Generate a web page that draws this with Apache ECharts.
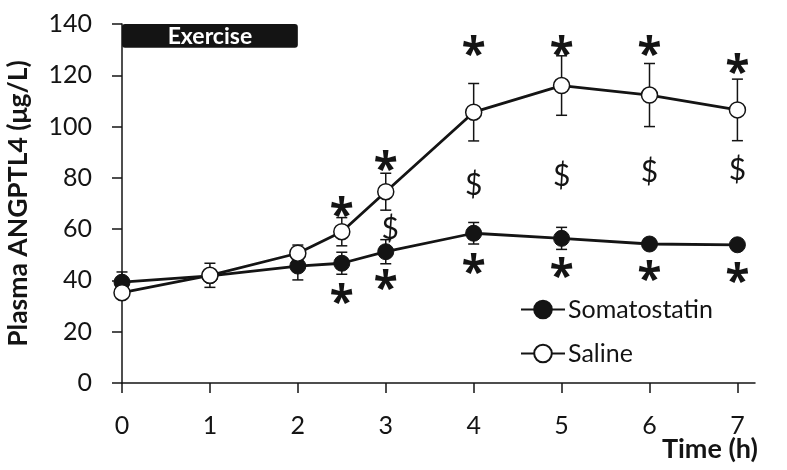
<!DOCTYPE html>
<html><head><meta charset="utf-8">
<script src="https://cdn.jsdelivr.net/npm/echarts@6/dist/echarts.min.js"></script>
<style>html,body{margin:0;padding:0;background:#fff}#c{width:787px;height:470px}</style>
</head><body><div id="c"></div>
<script>
// ---- data ----
const times = [0, 1, 2, 2.5, 3, 4, 5, 6, 7];
const somaMean = [39.3, 41.8, 45.6, 46.7, 51.2, 58.4, 56.4, 54.2, 53.9];
const somaErr = [4.0, 1.5, 5.4, 4.3, 4.7, 4.2, 4.3, 1.5, 2.0];
const salineMean = [35.2, 42.0, 50.6, 59.0, 74.6, 105.6, 116.0, 112.3, 106.5];
const salineErr = [1.5, 4.7, 3.2, 5.5, 7.2, 11.2, 11.6, 12.3, 12.0];
const xTicks = [0, 1, 2, 3, 4, 5, 6, 7];
const starAboveX = [2.5, 3, 4, 5, 6, 7];
const starAboveY = [68, 86, 131, 131, 131, 124];
const starBelowX = [2.5, 3, 4, 5, 6, 7];
const starBelowY = [34, 39.5, 46, 44.3, 43, 42.5];
const dollarX = [3.05, 4, 5, 6, 7];
const dollarY = [60, 77, 80.5, 82, 83];
const exerciseStart = 0, exerciseEnd = 2, exerciseLow = 130.7, exerciseHigh = 140;
const exerciseLabel = 'Exercise';
const seriesNames = ['Somatostatin', 'Saline'];
const xTitle = 'Time (h)';
const yTitle = 'Plasma ANGPTL4 (μg/L)';

const FONT = 'Lato';
const INK = '#141414';

const somaPts = times.map((t, i) => [t, somaMean[i]]);
const salPts = times.map((t, i) => [t, salineMean[i]]);
const somaErrData = times.map((t, i) => [t, somaMean[i], somaErr[i]]);
const salErrData = times.map((t, i) => [t, salineMean[i], salineErr[i]]);

function errRender(params, api) {
  const x = api.value(0), m = api.value(1), e = api.value(2);
  const top = api.coord([x, m + e]);
  const bot = api.coord([x, m - e]);
  const hw = 5.5;
  const st = {stroke: INK, lineWidth: 1.5, fill: null};
  return {type: 'group', children: [
    {type: 'line', shape: {x1: top[0], y1: top[1], x2: bot[0], y2: bot[1]}, style: st},
    {type: 'line', shape: {x1: top[0]-hw, y1: top[1], x2: top[0]+hw, y2: top[1]}, style: st},
    {type: 'line', shape: {x1: bot[0]-hw, y1: bot[1], x2: bot[0]+hw, y2: bot[1]}, style: st}
  ]};
}

function textSeries(xs, ys, txt, font, size, weight, dy) {
  return {
    type: 'custom', silent: true, clip: false,
    data: xs.map((x, i) => [x, ys[i]]),
    encode: {x: 0, y: 1},
    renderItem: (params, api) => {
      const p = api.coord([api.value(0), api.value(1)]);
      return {type: 'text', style: {text: txt, x: p[0], y: p[1] + dy, align: 'center',
        verticalAlign: 'middle', fill: INK, font: weight + ' ' + size + 'px "' + font + '"'}};
    },
    z: 5
  };
}

const chart = echarts.init(document.getElementById('c'), null, {renderer: 'canvas'});
chart.setOption({
  animation: false,
  backgroundColor: '#fff',
  grid: {left: 122, right: 32, top: 24, bottom: 87, containLabel: false, outerBoundsMode: 'none'},
  graphic: [{
    type: 'text', right: 29, top: 436, silent: true,
    style: {text: xTitle, font: 'bold 27px ' + FONT, fill: INK}
  }],
  xAxis: {
    type: 'value', min: 0, max: 7.2, interval: 1,
    axisLine: {show: true, lineStyle: {color: INK, width: 1.5}},
    axisTick: {show: true, length: 10, lineStyle: {color: INK, width: 1.5}, customValues: xTicks},
    axisLabel: {fontFamily: FONT, fontSize: 25, color: INK, margin: 30, customValues: xTicks},
    splitLine: {show: false}
  },
  yAxis: {
    type: 'value', min: 0, max: 140, interval: 20,
    name: yTitle, nameLocation: 'middle', nameGap: 90,
    nameTextStyle: {fontFamily: FONT, fontWeight: 'bold', fontSize: 26.5, color: INK},
    axisLine: {show: true, lineStyle: {color: INK, width: 1.5}},
    axisTick: {show: true, length: 10, lineStyle: {color: INK, width: 1.5}},
    axisLabel: {fontFamily: FONT, fontSize: 25, color: INK, margin: 30},
    splitLine: {show: false}
  },
  legend: {
    orient: 'vertical', left: 515, top: 292, itemWidth: 44, itemHeight: 22, itemGap: 19,
    data: seriesNames,
    textStyle: {fontFamily: FONT, fontSize: 25, color: INK, padding: [0, 0, 0, -2]}
  },
  series: [
    {
      type: 'custom', silent: true, clip: false,
      data: [[exerciseStart, exerciseEnd, exerciseLow, exerciseHigh]],
      encode: {x: [0, 1], y: [2, 3]},
      renderItem: (params, api) => {
        const p1 = api.coord([api.value(0), api.value(3)]);
        const p2 = api.coord([api.value(1), api.value(2)]);
        return {type: 'group', children: [
          {type: 'rect', shape: {x: p1[0], y: p1[1], width: p2[0]-p1[0], height: p2[1]-p1[1], r: 3},
            style: {fill: INK}},
          {type: 'text', style: {text: exerciseLabel, x: (p1[0]+p2[0])/2, y: (p1[1]+p2[1])/2 + 1,
            align: 'center', verticalAlign: 'middle', fill: '#fff',
            font: 'bold 23px ' + FONT}}
        ]};
      },
      z: 1
    },
    {type: 'custom', silent: true, data: somaErrData, renderItem: errRender, encode: {x: 0, y: 1}, z: 2},
    {type: 'custom', silent: true, data: salErrData, renderItem: errRender, encode: {x: 0, y: 1}, z: 2},
    {
      name: seriesNames[0], type: 'line', data: somaPts, symbol: 'circle', symbolSize: 16,
      lineStyle: {color: INK, width: 2.8}, itemStyle: {color: INK, borderColor: INK, borderWidth: 1},
      z: 3
    },
    {
      name: seriesNames[1], type: 'line', data: salPts, symbol: 'circle', symbolSize: 16,
      lineStyle: {color: INK, width: 2.8}, itemStyle: {color: '#fff', borderColor: INK, borderWidth: 1.5},
      z: 4
    },
    textSeries(starAboveX, starAboveY, '*', 'Noto Sans', 44, 'bold', 9),
    textSeries(starBelowX, starBelowY, '*', 'Noto Sans', 44, 'bold', 9),
    textSeries(dollarX, dollarY, '$', FONT, 30, 'normal', 0)
  ]
});
</script>
</body></html>
